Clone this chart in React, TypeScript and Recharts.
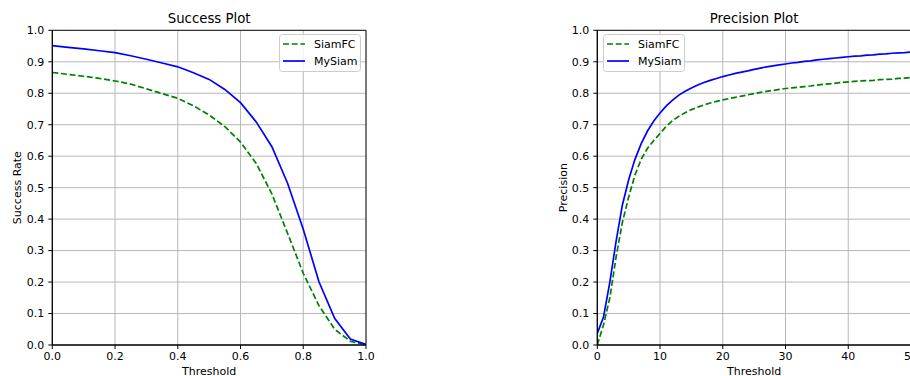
import React from 'react'
import { LineChart, Line, XAxis, YAxis, CartesianGrid, ReferenceArea } from 'recharts'

// success plot (overlap threshold)
const successThresholds = [0, 0.05, 0.1, 0.15, 0.2, 0.25, 0.3, 0.35, 0.4, 0.45, 0.5, 0.55, 0.6, 0.65, 0.7, 0.75, 0.8, 0.85, 0.9, 0.95, 1.0]
const successSiamFC = [0.866, 0.86, 0.854, 0.847, 0.839, 0.829, 0.814, 0.799, 0.784, 0.76, 0.731, 0.694, 0.645, 0.577, 0.48, 0.355, 0.228, 0.125, 0.05, 0.012, 0.0]
const successMySiam = [0.951, 0.946, 0.941, 0.935, 0.929, 0.919, 0.908, 0.896, 0.884, 0.865, 0.844, 0.812, 0.77, 0.709, 0.63, 0.514, 0.368, 0.201, 0.085, 0.019, 0.002]

// precision plot (location error threshold)
const precisionThresholds = [0, 1, 2, 3, 4, 5, 6, 7, 8, 9, 10, 11, 12, 13, 14, 15, 16, 17, 18, 19, 20, 21, 22, 23, 24, 25, 26, 27, 28, 29, 30, 31, 32, 33, 34, 35, 36, 37, 38, 39, 40, 41, 42, 43, 44, 45, 46, 47, 48, 49, 50]
const precisionSiamFC = [0.0, 0.065, 0.15, 0.28, 0.39, 0.47, 0.54, 0.59, 0.625, 0.65, 0.672, 0.695, 0.713, 0.727, 0.738, 0.748, 0.756, 0.763, 0.769, 0.774, 0.779, 0.783, 0.787, 0.791, 0.795, 0.799, 0.803, 0.806, 0.809, 0.812, 0.815, 0.817, 0.819, 0.821, 0.823, 0.826, 0.828, 0.83, 0.832, 0.834, 0.836, 0.838, 0.839, 0.84, 0.841, 0.843, 0.844, 0.845, 0.847, 0.848, 0.85]
const precisionMySiam = [0.037, 0.09, 0.2, 0.33, 0.445, 0.525, 0.59, 0.64, 0.68, 0.712, 0.737, 0.76, 0.778, 0.794, 0.806, 0.817, 0.826, 0.834, 0.841, 0.847, 0.853, 0.858, 0.863, 0.867, 0.871, 0.876, 0.88, 0.884, 0.887, 0.89, 0.893, 0.896, 0.898, 0.901, 0.903, 0.906, 0.908, 0.91, 0.912, 0.914, 0.916, 0.918, 0.919, 0.921, 0.922, 0.924, 0.925, 0.927, 0.928, 0.929, 0.931]

const successXTicks = [0, 0.2, 0.4, 0.6, 0.8, 1.0]
const precisionXTicks = [0, 10, 20, 30, 40, 50]
const yTicks = [0, 0.1, 0.2, 0.3, 0.4, 0.5, 0.6, 0.7, 0.8, 0.9, 1.0]

const FONT = '"DejaVu Sans", sans-serif'
const GREEN = '#008000'
const BLUE = '#0000ff'

const tickStyle = { fontSize: 11, fill: '#000', fontFamily: FONT }

// matplotlib-style legend box, placed by hand so it doesn't eat plot space
const LegendBox = ({ left }: { left: number }) => (
    <svg width={83} height={39} style={{ position: 'absolute', left, top: 34, display: 'block' }}>
        <rect x={0.5} y={0.5} width={81} height={37} rx={3} fill="#fff" fillOpacity={0.8} stroke="#cccccc" />
        <line x1={4} x2={26} y1={10} y2={10} stroke={GREEN} strokeWidth={1.7} strokeDasharray="6 2.7" />
        <text x={35} y={14} fontSize={11} fontFamily={FONT} fill="#000">SiamFC</text>
        <line x1={4} x2={26} y1={27} y2={27} stroke={BLUE} strokeWidth={1.7} />
        <text x={35} y={31} fontSize={11} fontFamily={FONT} fill="#000">MySiam</text>
    </svg>
)

interface PanelProps {
    left: number
    title: string
    yLabel: string
    yLabelDx: number
    xs: number[]
    siamfc: number[]
    mysiam: number[]
    xTicks: number[]
    xDomain: [number, number]
    xFormat: (v: number) => string
    yAxisWidth: number
    marginRight: number
    legendLeft: number
}

function Panel(p: PanelProps) {
    const data = p.xs.map((x, i) => ({ x, siamfc: p.siamfc[i], mysiam: p.mysiam[i] }))
    const plotLeft = p.yAxisWidth
    const plotRight = 380 - p.marginRight
    return (
        <div style={{ position: 'absolute', left: p.left, top: 0, width: 380, height: 376 }}>
            <div style={{
                position: 'absolute', top: 11, left: plotLeft, width: plotRight - plotLeft,
                textAlign: 'center', fontFamily: FONT, fontSize: 13.3, lineHeight: '16px', color: '#000'
            }}>{p.title}</div>
            <LineChart width={380} height={376} data={data} margin={{ top: 30.3, right: p.marginRight, bottom: 0, left: 0 }}>
                <CartesianGrid stroke="#b0b0b0" strokeWidth={0.9} />
                <XAxis
                    dataKey="x"
                    type="number"
                    domain={p.xDomain}
                    ticks={p.xTicks}
                    tickFormatter={p.xFormat}
                    allowDataOverflow
                    height={31}
                    tickSize={4}
                    tickMargin={3}
                    tick={tickStyle}
                    stroke="#000"
                    label={{ value: 'Threshold', position: 'insideBottom', offset: 1.5, style: { fontSize: 11, fill: '#000', fontFamily: FONT } }}
                />
                <YAxis
                    type="number"
                    domain={[0, 1]}
                    ticks={yTicks}
                    tickFormatter={(v: number) => v.toFixed(1)}
                    width={p.yAxisWidth}
                    tickSize={4}
                    tickMargin={4}
                    tick={tickStyle}
                    stroke="#000"
                    label={{ value: p.yLabel, angle: -90, position: 'center', dx: p.yLabelDx, style: { fontSize: 11, fill: '#000', fontFamily: FONT, textAnchor: 'middle' } }}
                />
                <ReferenceArea x1={p.xDomain[0]} x2={p.xDomain[1]} y1={0} y2={1} fill="none" stroke="#000" strokeWidth={0.9} />
                <Line type="linear" dataKey="siamfc" stroke={GREEN} strokeWidth={1.7} strokeDasharray="6 2.7" dot={false} isAnimationActive={false} />
                <Line type="linear" dataKey="mysiam" stroke={BLUE} strokeWidth={1.7} dot={false} isAnimationActive={false} />
            </LineChart>
            <LegendBox left={p.legendLeft} />
        </div>
    )
}

export default function App() {
    return (
        <div style={{ position: 'absolute', left: 0, top: 0, width: 910, height: 376, overflow: 'hidden', background: '#fff' }}>
            <Panel
                left={0}
                title="Success Plot"
                yLabel="Success Rate"
                yLabelDx={-9.5}
                xs={successThresholds}
                siamfc={successSiamFC}
                mysiam={successMySiam}
                xTicks={successXTicks}
                xDomain={[0, 1]}
                xFormat={(v: number) => v.toFixed(1)}
                yAxisWidth={52.3}
                marginRight={14}
                legendLeft={279}
            />
            <Panel
                left={540}
                title="Precision Plot"
                yLabel="Precision"
                yLabelDx={-6}
                xs={precisionThresholds}
                siamfc={precisionSiamFC}
                mysiam={precisionMySiam}
                xTicks={precisionXTicks}
                xDomain={[0, 50]}
                xFormat={(v: number) => String(v)}
                yAxisWidth={57.3}
                marginRight={9}
                legendLeft={63}
            />
        </div>
    )
}
